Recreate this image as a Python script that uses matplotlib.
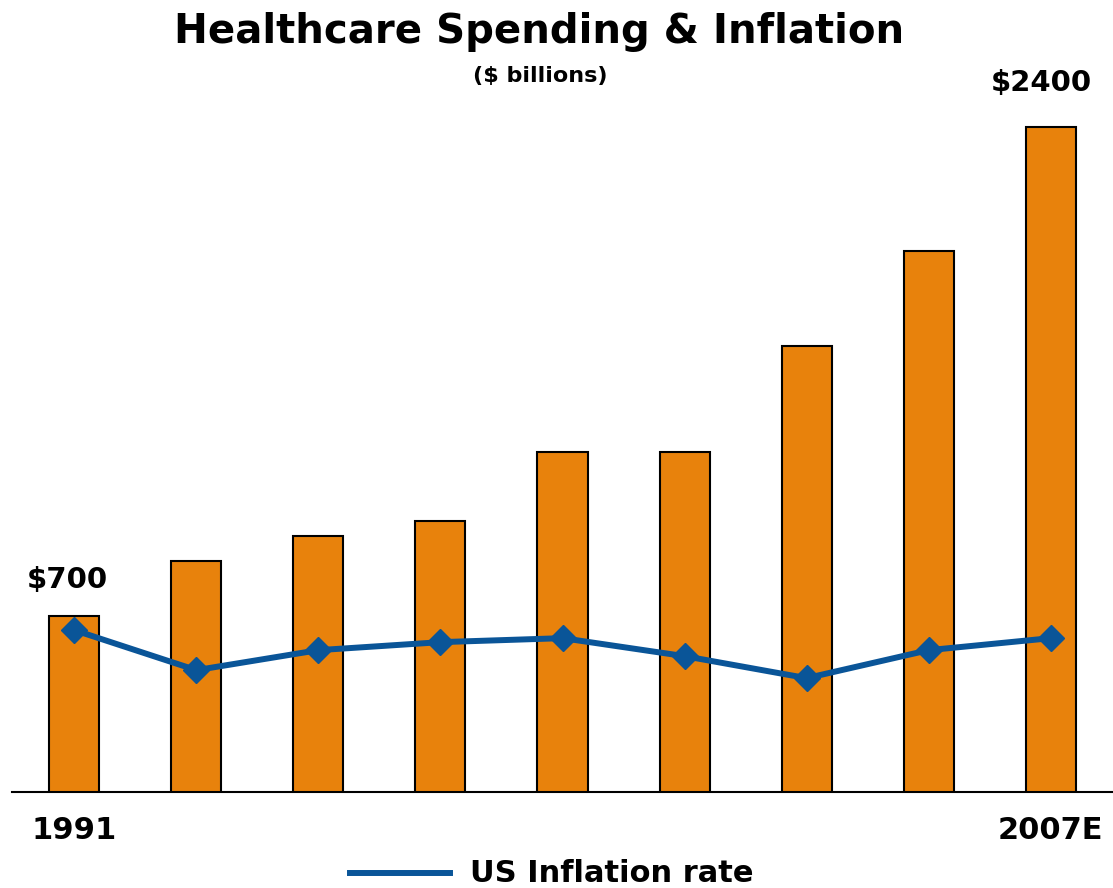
import numpy as np
import matplotlib.pyplot as plt

# data
years = ['1991', '', '', '', '', '', '', '', '2007E']
spending = [700, 890, 980, 1030, 1270, 1270, 1640, 1970, 2400]   # $ billions
inflation = [4.05, 3.05, 3.55, 3.75, 3.85, 3.4, 2.85, 3.55, 3.85]

orange = '#E8820C'
blue = '#0A5598'

plt.rcParams['font.family'] = ['DejaVu Sans']

fig = plt.figure(figsize=(11.13, 8.88), dpi=100)
ax = fig.add_axes([0.0108, 0.108, 0.9892, 0.779])
x = np.arange(len(spending))

ax.bar(x, spending, width=0.41, color=orange, edgecolor='black', linewidth=1.5, zorder=2)
ax.set_xlim(-0.51, 8.51)
ax.set_ylim(88, 88 + 692 * 3.476)

ax2 = ax.twinx()
ax2.plot(x, inflation, color=blue, lw=4.3, marker='D', ms=13, zorder=3)
ax2.set_ylim(0, 692 / 40)

for a in (ax, ax2):
    for s in ['top', 'right', 'left']:
        a.spines[s].set_visible(False)
    a.set_yticks([])
ax2.spines['bottom'].set_visible(False)
ax.spines['bottom'].set_linewidth(1.5)

ax.set_xticks(x)
ax.set_xticklabels(years, fontsize=22, fontweight='bold')
ax.tick_params(axis='x', length=0, pad=17)
ax.get_xticklabels()[0].set_x(0.03)

ax.annotate('$700', (x[0], spending[0]), xytext=(-5, 26), textcoords='offset points',
            ha='center', va='center', fontsize=21, fontweight='bold')
ax.annotate('$2400', (x[-1], spending[-1]), xytext=(-7, 32), textcoords='offset points',
            ha='center', va='center', fontsize=21, fontweight='bold')

fig.text(0.484, 0.964, 'Healthcare Spending & Inflation', ha='center', va='center',
         fontsize=29, fontweight='bold')
fig.text(0.485, 0.914, '($ billions)', ha='center', va='center',
         fontsize=16, fontweight='bold')

# legend
fig.add_artist(plt.Line2D([350 / 1113, 450 / 1113], [15 / 888, 15 / 888], color=blue, lw=4.3))
fig.text(470 / 1113, 15 / 888, 'US Inflation rate', ha='left', va='center',
         fontsize=22, fontweight='bold')

fig.savefig('out.png', dpi=100)
